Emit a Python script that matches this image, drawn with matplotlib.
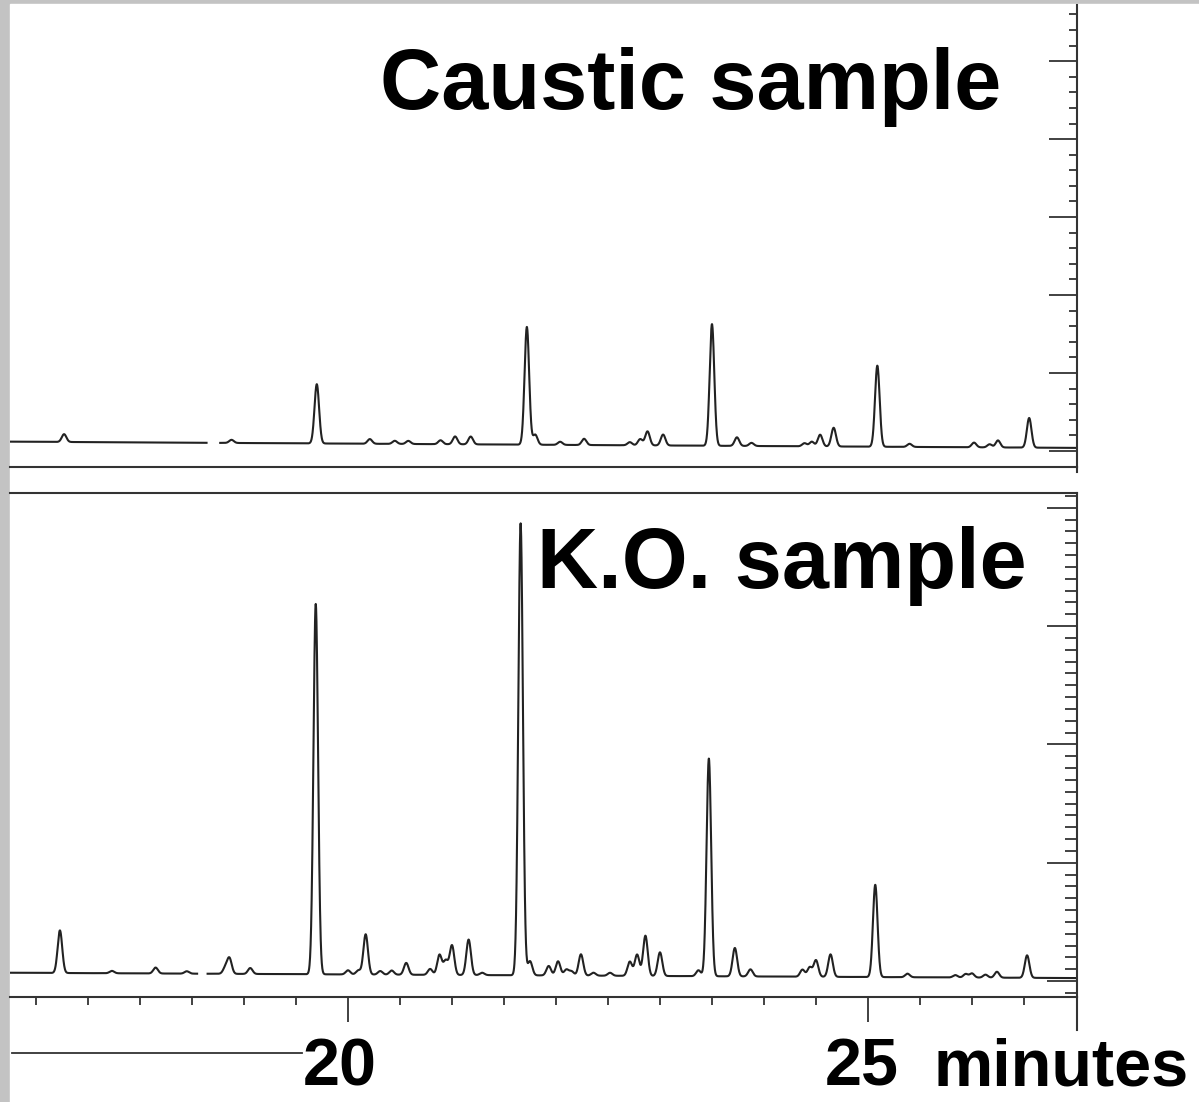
import matplotlib.pyplot as plt
import numpy as np

plt.rcParams['font.family'] = ['Liberation Sans', 'DejaVu Sans']

# retention time axis (minutes)
t_start, t_end = 16.75, 27.01

# Caustic sample: peaks (minutes, response)
caustic_times = [17.27, 18.88, 19.70, 20.21, 20.45, 20.58, 20.89, 21.03, 21.18,
                 21.72, 21.80, 22.04, 22.27, 22.71, 22.81, 22.88, 23.03, 23.50,
                 23.74, 23.88, 24.39, 24.46, 24.54, 24.67, 25.09, 25.40, 26.02,
                 26.17, 26.25, 26.55]
caustic_heights = [1.0, 0.4, 7.6, 0.6, 0.4, 0.4, 0.5, 1.0, 1.0,
                   15.1, 1.3, 0.4, 0.8, 0.4, 0.8, 1.8, 1.4, 15.6,
                   1.1, 0.4, 0.4, 0.6, 1.5, 2.4, 10.4, 0.4, 0.6,
                   0.4, 0.9, 3.8]
caustic_base_t = [16.75, 27.01]
caustic_base_y = [1.2, 0.4]
caustic_gap = (18.64, 18.77)

# K.O. sample
ko_times = [17.23, 17.73, 18.15, 18.45, 18.82, 18.86, 19.06, 19.69, 20.00, 20.10,
            20.17, 20.31, 20.42, 20.56, 20.79, 20.88, 20.94, 21.00, 21.16, 21.29,
            21.66, 21.75, 21.93, 22.02, 22.10, 22.15, 22.24, 22.36, 22.52, 22.71,
            22.78, 22.86, 23.00, 23.37, 23.47, 23.72, 23.87, 24.37, 24.44, 24.50,
            24.64, 25.07, 25.38, 25.84, 25.94, 26.00, 26.13, 26.24, 26.53]
ko_heights = [3.6, 0.2, 0.5, 0.2, 0.5, 1.3, 0.5, 31.3, 0.35, 0.35,
              3.4, 0.3, 0.35, 1.0, 0.5, 1.7, 1.2, 2.5, 3.0, 0.2,
              38.2, 1.2, 0.8, 1.2, 0.5, 0.35, 1.8, 0.25, 0.25, 1.2,
              1.8, 3.4, 2.0, 0.5, 18.4, 2.4, 0.6, 0.6, 0.8, 1.4,
              1.9, 7.8, 0.3, 0.2, 0.3, 0.35, 0.25, 0.5, 1.9]
ko_base_t = [16.75, 27.01]
ko_base_y = [0.7, 0.25]
ko_gap = (18.55, 18.65)

PEAK_SIGMA = 0.022
W, H = 1199, 1102


def trace(times, heights, base_t, base_y, gap, t):
    y = np.interp(t, base_t, base_y)
    for tp, h in zip(times, heights):
        y = y + h * np.exp(-0.5 * ((t - tp) / PEAK_SIGMA) ** 2)
    y[(t > gap[0]) & (t < gap[1])] = np.nan
    return y


def px_axes(left, right, top, bottom):
    return [left / W, 1 - bottom / H, (right - left) / W, (bottom - top) / H]


fig = plt.figure(figsize=(W / 100, H / 100), dpi=100, facecolor='#c3c3c3')

# page background and a few ruled lines from the scan
bg = fig.add_axes([0, 0, 1, 1], zorder=0)
bg.set_xlim(0, W)
bg.set_ylim(H, 0)
bg.axis('off')
bg.add_patch(plt.Rectangle((10, 4), W, H, color='white'))
bg.plot([12, 302], [1053, 1053], color='#333333', lw=1.3)
bg.plot([1077, 1077], [997, 1030], color='#333333', lw=1.5)
bg.plot([1077, 1077], [467, 472], color='#333333', lw=1.5)

t = np.linspace(t_start, t_end, 6000)
line_kw = dict(color='#222222', lw=1.5)

# top panel
ax1 = fig.add_axes(px_axes(10, 1077, 5, 467), zorder=1)
ax1.set_facecolor('none')
ax1.plot(t, trace(caustic_times, caustic_heights, caustic_base_t, caustic_base_y, caustic_gap, t), **line_kw)
ax1.set_xlim(t_start, t_end)
ax1.set_ylim(-2.05, 57.2)

# bottom panel
ax2 = fig.add_axes(px_axes(10, 1077, 493, 997), zorder=1)
ax2.set_facecolor('none')
ax2.plot(t, trace(ko_times, ko_heights, ko_base_t, ko_base_y, ko_gap, t), **line_kw)
ax2.set_xlim(t_start, t_end)
ax2.set_ylim(-1.35, 41.25)

for ax in (ax1, ax2):
    ax.spines['left'].set_visible(False)
    for s in ('top', 'bottom', 'right'):
        ax.spines[s].set_color('#333333')
        ax.spines[s].set_linewidth(1.5)
    ax.yaxis.tick_right()
    ax.tick_params(axis='y', which='both', direction='in', labelright=False,
                   color='#333333', width=1.3)
ax1.spines['top'].set_visible(False)

ax1.set_xticks([])
ax1.set_yticks(np.arange(0, 51, 10))
ax1.set_yticks(np.arange(-2, 57, 2), minor=True)
ax1.tick_params(axis='y', which='major', length=20)
ax1.tick_params(axis='y', which='minor', length=5.8)

ax2.set_xticks([20, 25])
ax2.set_xticks(np.arange(17.0, 27.0, 0.5), minor=True)
ax2.tick_params(axis='x', which='both', direction='out', labelbottom=False,
                color='#333333', width=1.3)
ax2.tick_params(axis='x', which='major', length=18)
ax2.tick_params(axis='x', which='minor', length=6)
ax2.set_yticks(np.arange(0, 41, 10))
ax2.set_yticks(np.arange(-1, 42, 1), minor=True)
ax2.tick_params(axis='y', which='major', length=21.5)
ax2.tick_params(axis='y', which='minor', length=8.6)

# labels
txt = dict(fontweight='bold', color='black', va='baseline')
fig.text(380 / W, 1 - 109 / H, 'Caustic sample', fontsize=61, ha='left', **txt)
fig.text(537 / W, 1 - 588 / H, 'K.O. sample', fontsize=61, ha='left', **txt)
fig.text(340 / W, 1 - 1086 / H, '20', fontsize=48, ha='center', **txt)
fig.text(862 / W, 1 - 1086 / H, '25', fontsize=48, ha='center', **txt)
fig.text(934 / W, 1 - 1086 / H, 'minutes', fontsize=48, ha='left', **txt)

fig.savefig('out.png', dpi=100, facecolor=fig.get_facecolor())
